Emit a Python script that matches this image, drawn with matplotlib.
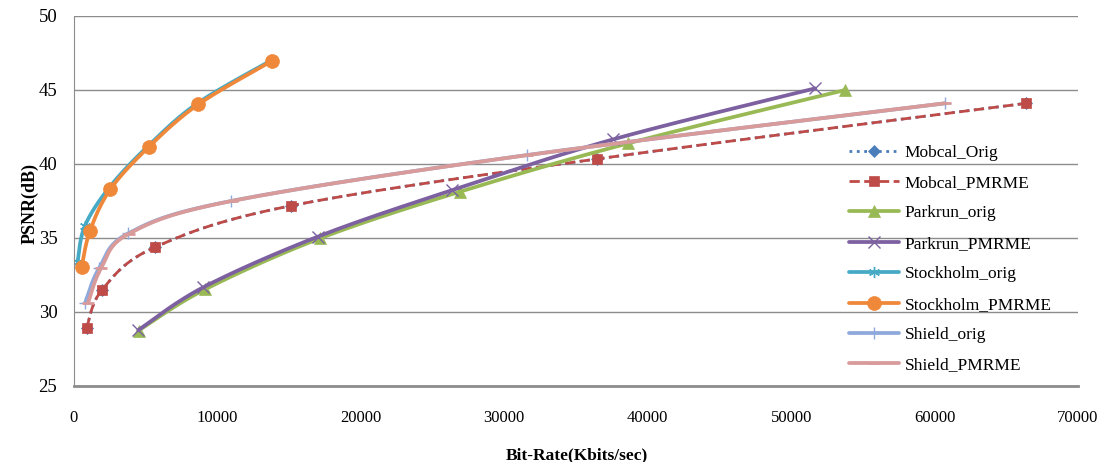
import numpy as np
import matplotlib
matplotlib.use("Agg")
import matplotlib.pyplot as plt

# values (bit-rate in Kbits/sec, PSNR in dB)
mobcal_orig_x = [886, 1953, 5628, 15132, 36450, 66387]
mobcal_orig_y = [28.94, 31.49, 34.37, 37.18, 40.34, 44.10]
mobcal_pmrme_x = [886, 1953, 5628, 15132, 36450, 66387]
mobcal_pmrme_y = [28.94, 31.49, 34.37, 37.18, 40.34, 44.10]
parkrun_orig_x = [4500, 9135, 17155, 26918, 38655, 53766]
parkrun_orig_y = [28.75, 31.53, 34.98, 38.13, 41.40, 45.00]
parkrun_pmrme_x = [4488, 9017, 16995, 26380, 37610, 51674]
parkrun_pmrme_y = [28.78, 31.67, 35.09, 38.24, 41.67, 45.11]
stock_orig_x = [250, 750, 2450, 5150, 8600, 13750]
stock_orig_y = [33.40, 35.80, 38.40, 41.20, 44.10, 47.00]
stock_pmrme_x = [537, 1116, 2531, 5209, 8668, 13828]
stock_pmrme_y = [33.06, 35.49, 38.29, 41.15, 44.03, 46.98]
shield_orig_x = [767, 1743, 3790, 10948, 31568, 60739]
shield_orig_y = [30.59, 32.95, 35.32, 37.50, 40.60, 44.10]
shield_pmrme_x = [976, 1883, 3850, 11000, 31600, 60700]
shield_pmrme_y = [30.60, 32.95, 35.30, 37.50, 40.60, 44.10]

x_ticks = [0, 10000, 20000, 30000, 40000, 50000, 60000, 70000]
y_ticks = [25, 30, 35, 40, 45, 50]

N = 30


def smooth(xs, ys):
    # excel style smoothed line (bezier through points), done in axis-normalised space
    p = np.column_stack([np.asarray(xs) / 70000.0, (np.asarray(ys) - 25) / 25.0 * (370 / 1004.0)])
    pts = np.vstack([p[0], p, p[-1]])
    out = []
    t = np.linspace(0, 1, N, endpoint=False)[:, None]
    for i in range(1, len(pts) - 2):
        p0, p1, p2, p3 = pts[i - 1], pts[i], pts[i + 1], pts[i + 2]
        c1 = p1 + (p2 - p0) / 6.0
        c2 = p2 - (p3 - p1) / 6.0
        seg = (1 - t) ** 3 * p1 + 3 * (1 - t) ** 2 * t * c1 + 3 * (1 - t) * t ** 2 * c2 + t ** 3 * p2
        out.append(seg)
    out.append(pts[-2][None, :])
    c = np.vstack(out)
    return c[:, 0] * 70000.0, c[:, 1] * 1004.0 / 370 * 25.0 + 25


series = [
    ("Mobcal_Orig", mobcal_orig_x, mobcal_orig_y, "#4A7EBB", ":", "D", 6, 2.0),
    ("Mobcal_PMRME", mobcal_pmrme_x, mobcal_pmrme_y, "#BE4B48", "--", "s", 7, 2.0),
    ("Parkrun_orig", parkrun_orig_x, parkrun_orig_y, "#98B954", "-", "^", 9, 2.7),
    ("Parkrun_PMRME", parkrun_pmrme_x, parkrun_pmrme_y, "#7D60A0", "-", "x", 8, 2.7),
    ("Stockholm_orig", stock_orig_x, stock_orig_y, "#46AAC5", "-", (6, 2, 0), 8, 2.7),
    ("Stockholm_PMRME", stock_pmrme_x, stock_pmrme_y, "#F0883A", "-", "o", 10, 2.7),
    ("Shield_orig", shield_orig_x, shield_orig_y, "#8EA9DB", "-", "+", 9, 2.7),
    ("Shield_PMRME", shield_pmrme_x, shield_pmrme_y, "#D99A9A", "-", "_", 9, 2.7),
]

plt.rcParams["font.family"] = ["Liberation Serif", "DejaVu Serif"]

fig = plt.figure(figsize=(11.05, 4.62), dpi=100)
ax = fig.add_axes([74 / 1105, 1 - 386 / 462, 1004 / 1105, 370 / 462])

for name, xs, ys, col, ls, mk, ms, lw in series:
    sx, sy = smooth(xs, ys)
    idx = [i * N for i in range(len(xs))]
    mew = 1.0 if mk in ("x", "+", (6, 2, 0)) else 2.0 if mk == "_" else 0.5
    ax.plot(sx, sy, color=col, ls=ls, lw=lw, marker=mk, markersize=ms,
            markevery=idx, markeredgewidth=mew, label=name,
            markerfacecolor=col, markeredgecolor=col,
            dash_capstyle="butt", solid_capstyle="round")

ax.set_xlim(0, 70000)
ax.set_ylim(25, 50)
ax.set_xticks(x_ticks)
ax.set_yticks(y_ticks)
ax.tick_params(axis="x", length=0, pad=17, labelsize=12)
ax.tick_params(axis="y", length=0, pad=12, labelsize=13.5)
ax.grid(axis="y", color="#8c8c8c", lw=1.0)
ax.set_axisbelow(True)
for s in ("top", "right"):
    ax.spines[s].set_visible(False)
ax.spines["left"].set_color("#8c8c8c")
ax.spines["bottom"].set_color("#8c8c8c")
ax.spines["bottom"].set_linewidth(2.0)

fig.text(30 / 1105, 1 - 203 / 462, "PSNR(dB)", rotation=90, ha="center", va="center",
         fontsize=13, fontweight="bold")
fig.text(577 / 1105, 1 - 455 / 462, "Bit-Rate(Kbits/sec)", ha="center", va="center",
         fontsize=12.5, fontweight="bold")

leg = ax.legend(loc="center left", bbox_to_anchor=(849 / 1105, 1 - 259 / 462),
                bbox_transform=fig.transFigure, frameon=False, fontsize=12.5,
                borderpad=0, borderaxespad=0, handlelength=2.9, handletextpad=0.3,
                labelspacing=0.82)

fig.savefig("out.png", dpi=100)
